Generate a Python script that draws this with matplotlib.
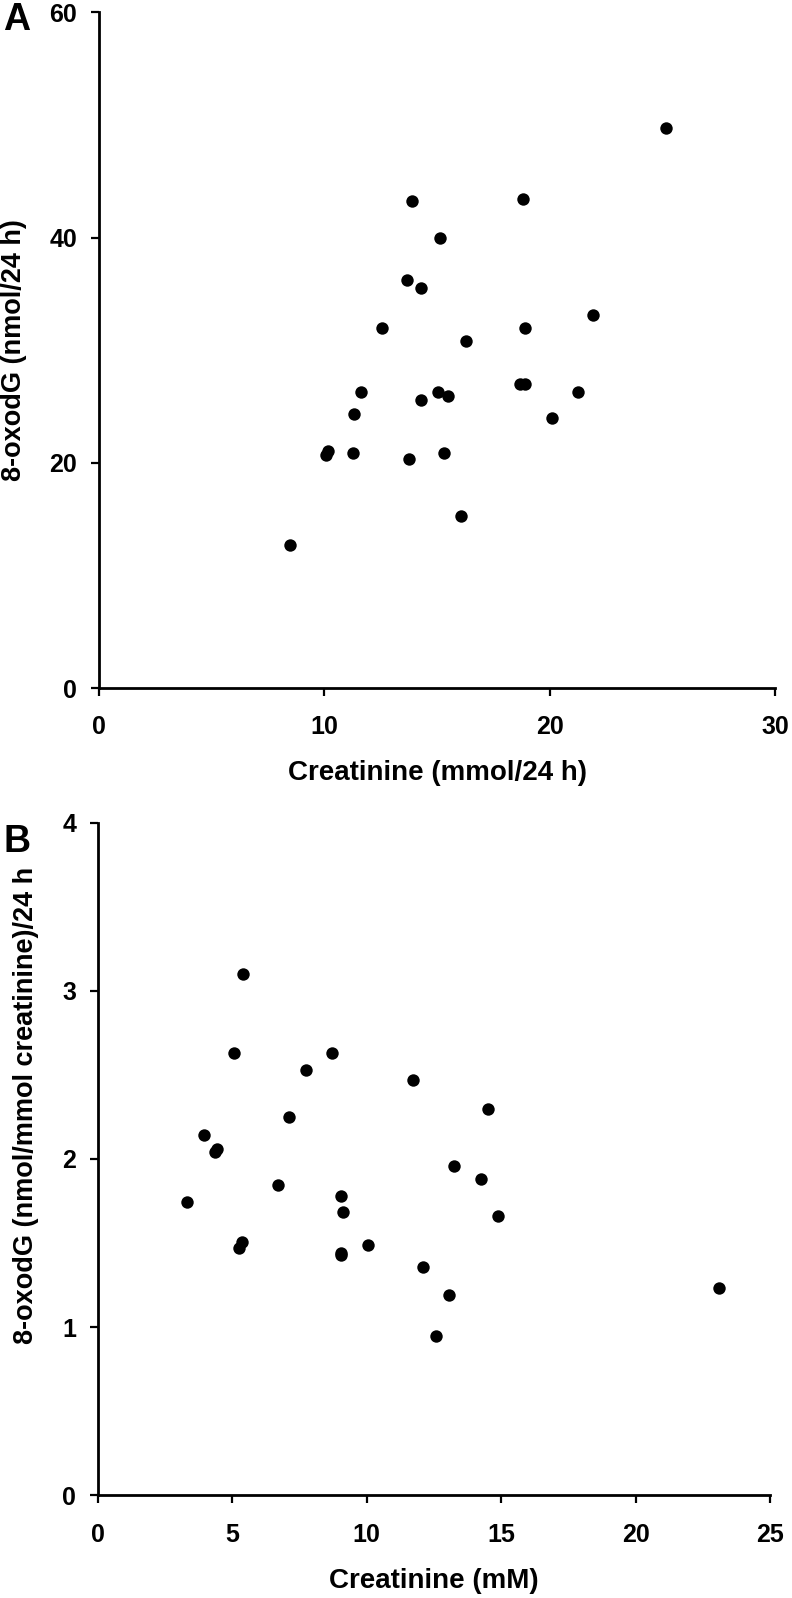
import matplotlib
matplotlib.use("Agg")
import matplotlib.pyplot as plt

# Panel A data: creatinine (mmol/24 h) vs 8-oxodG (nmol/24 h)
a_creat = [25.15, 13.88, 18.81, 15.14, 13.68, 14.29, 21.92, 12.58, 18.92, 16.30,
           18.70, 18.90, 11.64, 15.03, 21.25, 14.31, 15.50, 11.33, 20.09, 10.08,
           10.15, 11.29, 13.77, 15.32, 16.06, 8.49]
a_oxodg = [49.7, 43.25, 43.4, 40.0, 36.2, 35.5, 33.1, 31.97, 31.97, 30.8,
           27.05, 27.0, 26.34, 26.34, 26.34, 25.57, 25.9, 24.38, 24.0, 20.74,
           21.03, 20.86, 20.32, 20.9, 15.32, 12.71]

# Panel B data: creatinine (mM) vs 8-oxodG (nmol/mmol creatinine)/24 h
b_creat = [5.41, 5.05, 8.71, 7.75, 11.73, 14.52, 7.09, 3.96, 4.43, 4.35,
           13.25, 14.23, 6.68, 9.05, 3.30, 9.12, 14.88, 5.37, 5.26, 9.05,
           9.05, 10.04, 12.10, 23.12, 13.04, 12.57]
b_oxodg = [3.10, 2.63, 2.63, 2.53, 2.47, 2.30, 2.25, 2.145, 2.06, 2.04,
           1.96, 1.88, 1.845, 1.78, 1.746, 1.683, 1.661, 1.505, 1.473, 1.443,
           1.429, 1.49, 1.358, 1.235, 1.19, 0.947]

a_xticks = [0, 10, 20, 30]
a_yticks = [0, 20, 40, 60]
b_xticks = [0, 5, 10, 15, 20, 25]
b_yticks = [0, 1, 2, 3, 4]

W, H = 792, 1598
fig = plt.figure(figsize=(W / 100, H / 100), dpi=100)

FONT = ['Liberation Sans', 'DejaVu Sans']


def make_axes(left, right, top, bottom):
    return fig.add_axes([left / W, 1 - bottom / H, (right - left) / W, (bottom - top) / H])


def style(ax, xticks, yticks, xlabel, ylabel, xlim, ylim, xpad):
    ax.set_xlim(*xlim)
    ax.set_ylim(*ylim)
    ax.set_xticks(xticks)
    ax.set_yticks(yticks)
    for s in ['top', 'right']:
        ax.spines[s].set_visible(False)
    for s in ['left', 'bottom']:
        ax.spines[s].set_linewidth(2.0)
        ax.spines[s].set_color('black')
    ax.tick_params(axis='both', direction='out', length=5.8, width=1.6, color='black')
    ax.tick_params(axis='x', pad=xpad)
    ax.tick_params(axis='y', pad=10)
    for lab in ax.get_xticklabels() + ax.get_yticklabels():
        lab.set_family(FONT)
        lab.set_fontweight('bold')
        lab.set_fontsize(18)
    ax.set_xlabel(xlabel, family=FONT, fontweight='bold', fontsize=20)
    ax.set_ylabel(ylabel, family=FONT, fontweight='bold', fontsize=19.5)
    ax.patch.set_alpha(0)


axA = make_axes(99, 775, 12.3, 688.3)
axA.scatter(a_creat, a_oxodg, s=80, color='black', zorder=3, clip_on=False, linewidths=0)
style(axA, a_xticks, a_yticks, 'Creatinine (mmol/24 h)', '8-oxodG (nmol/24 h)', (0, 30), (0, 60), 13.5)
axA.yaxis.set_label_coords(-0.106, 0.50)
axA.xaxis.set_label_coords(0.5, -0.106)

axB = make_axes(98, 770, 822.7, 1495.3)
axB.scatter(b_creat, b_oxodg, s=80, color='black', zorder=3, clip_on=False, linewidths=0)
style(axB, b_xticks, b_yticks, 'Creatinine (mM)', '8-oxodG (nmol/mmol creatinine)/24 h', (0, 25), (0, 4), 14.5)
axB.yaxis.set_label_coords(-0.088, 0.579)
axB.xaxis.set_label_coords(0.5, -0.108)

fig.text(3 / W, 1 - 20 / H, 'A', family=FONT, fontweight='bold', fontsize=27, va='center', ha='left')
fig.text(4 / W, 1 - 842 / H, 'B', family=FONT, fontweight='bold', fontsize=27, va='center', ha='left')

fig.savefig('out.png', dpi=100, facecolor='white')
